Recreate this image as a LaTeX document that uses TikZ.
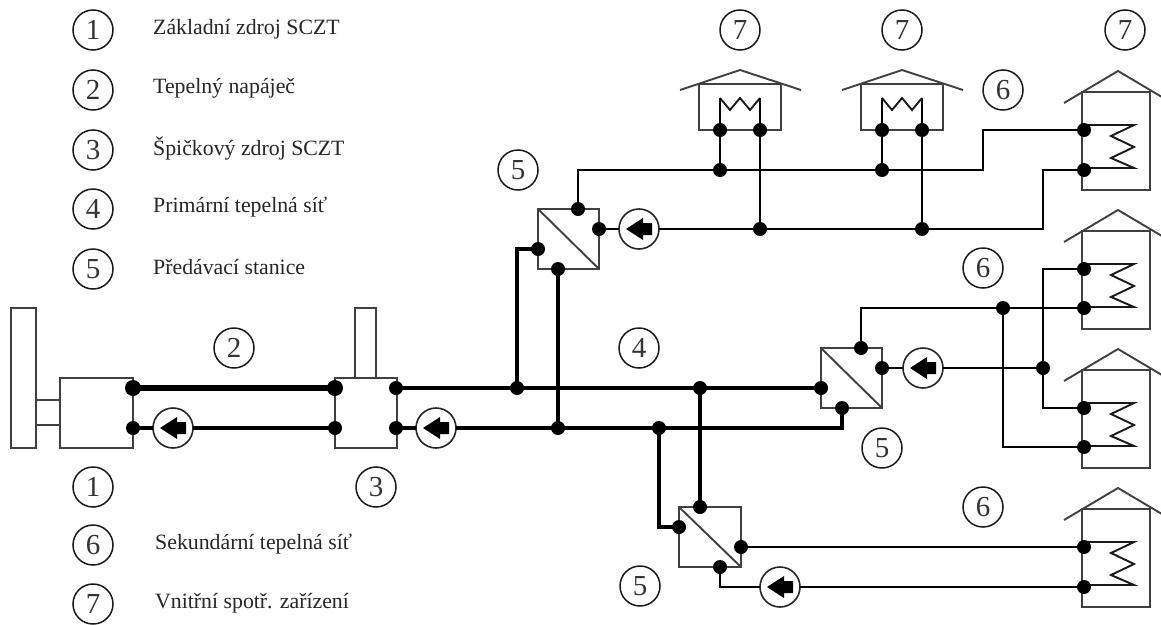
\documentclass[tikz,border=0pt]{standalone}
\usepackage{fontspec}
\setmainfont{Liberation Serif}
\tikzset{
  numc/.style={circle,draw=black!90,line width=1.5pt,minimum size=40pt,inner sep=0pt,font=\fontsize{29}{30}\selectfont,text=black!80},
  legtext/.style={anchor=west,inner sep=0pt,font=\fontsize{21.8}{24}\selectfont,text=black!85},
  thinbox/.style={draw=black!80,line width=1.9pt,inner sep=0pt},
  junc/.style={circle,fill=black,inner sep=0pt,outer sep=0pt,minimum size=14pt},
  bigjunc/.style={circle,fill=black,inner sep=0pt,outer sep=0pt,minimum size=16pt},
  pumpc/.style={circle,draw=black!85,fill=white,line width=1.6pt,minimum size=40pt,inner sep=0pt,outer sep=0pt,
    path picture={\fill[black] (path picture bounding box.center) ++(-13,0) -- ++(17,-11) -- ++(0,5) -- ++(9,0) -- ++(0,12) -- ++(-9,0) -- ++(0,5) -- cycle;}},
  pipeT/.style={line width=1.9pt,black},
  pipeM/.style={line width=2.7pt,black},
  pipeB/.style={line width=3.6pt,black},
  pipeF/.style={line width=4.6pt,black},
  pipeH/.style={line width=5.5pt,black},
  wall/.style={draw=black!75,line width=1.9pt,line join=miter},
  coilline/.style={draw=black!90,line width=1.9pt,line join=miter}
}
\begin{document}
\begin{tikzpicture}[x=1pt,y=-1pt]
\path[fill=white,use as bounding box] (0,0) rectangle (1161,624);

% legend
\node[numc] (l1) at (93,30) {1};
\node[numc] (l2) at (93,90) {2};
\node[numc] (l3) at (93,150) {3};
\node[numc] (l4) at (93,209) {4};
\node[numc] (l5) at (93,269) {5};
\node[numc] (l6) at (93,545) {6};
\node[numc] (l7) at (93,604) {7};
\node[legtext] (t1) at (153,29) {Základní zdroj SCZT};
\node[legtext] (t2) at (153,88) {Tepelný napáječ};
\node[legtext] (t3) at (153,148) {Špičkový zdroj SCZT};
\node[legtext] (t4) at (153,207) {Primární tepelná síť};
\node[legtext] (t5) at (153,267) {Předávací stanice};
\node[legtext] (t6) at (155,544) {Sekundární tepelná síť};
\node[legtext] (t7) at (155,603) {Vnitřní spotř. zařízení};

% number labels
\node[numc] (n1) at (93,487) {1};
\node[numc] (n2) at (234,348) {2};
\node[numc] (n3) at (376,487) {3};
\node[numc] (n4) at (639,348) {4};
\node[numc] (n5a) at (518,170) {5};
\node[numc] (n5b) at (882,448) {5};
\node[numc] (n5c) at (640,586) {5};
\node[numc] (n6a) at (1003,90) {6};
\node[numc] (n6b) at (983,268) {6};
\node[numc] (n6c) at (983,507) {6};
\node[numc] (n7a) at (740,30) {7};
\node[numc] (n7b) at (902,30) {7};
\node[numc] (n7c) at (1125,30) {7};

% source and peak plant
\draw[wall] (11,308) rectangle (36,448);
\draw[wall] (36,400) rectangle (60,425);
\draw[wall] (60,378) rectangle (133,448);
\draw[wall] (355,308) rectangle (376,378);
\draw[wall] (335,378) rectangle (397,448);

% small houses
\foreach \dx in {0,162}{
  \draw[wall] (699+\dx,84) rectangle (781+\dx,130);
  \draw[wall] (680+\dx,90) -- (740+\dx,70) -- (801+\dx,90);
  \draw[coilline] (720+\dx,98) -- (730+\dx,110) -- (740+\dx,98) -- (750+\dx,110) -- (760+\dx,98);
}
% tall houses
\foreach \dy in {0,139,278,417}{
  \draw[wall] (1082,92+\dy) -- (1082,190+\dy) -- (1150,190+\dy) -- (1150,92+\dy) -- cycle;
  \draw[wall] (1064,103+\dy) -- (1118,71+\dy) -- (1172,103+\dy);
  \draw[coilline] (1084,125+\dy) -- (1134,125+\dy) -- (1111,136+\dy) -- (1134,147+\dy) -- (1111,158+\dy) -- (1134,168+\dy) -- (1084,168+\dy);
}

% exchanger stations
\draw[wall] (538,209) rectangle (599,269);
\draw[wall] (538,209) -- (599,269);
\draw[wall] (821,348) rectangle (882,408);
\draw[wall] (821,348) -- (882,408);
\draw[wall] (679,507) rectangle (741,567);
\draw[wall] (679,507) -- (741,567);

% junctions
\node[bigjunc] (s1) at (133,388) {};
\node[junc] (s2) at (133,428) {};
\node[bigjunc] (p1) at (335,388) {};
\node[junc] (p2) at (335,428) {};
\node[junc] (p3) at (396,388) {};
\node[junc] (p4) at (396,428) {};
\node[junc] (j1) at (517,388) {};
\node[junc] (j2) at (558,428) {};
\node[junc] (j3) at (700,388) {};
\node[junc] (j4) at (659,428) {};
\node[junc] (aT) at (578,209) {};
\node[junc] (aR) at (599,229) {};
\node[junc] (aL) at (538,249) {};
\node[junc] (aB) at (558,269) {};
\node[junc] (bT) at (861,348) {};
\node[junc] (bR) at (882,368) {};
\node[junc] (bL) at (821,388) {};
\node[junc] (bB) at (842,408) {};
\node[junc] (cT) at (700,507) {};
\node[junc] (cL) at (679,527) {};
\node[junc] (cR) at (741,547) {};
\node[junc] (cB) at (720,567) {};
\node[junc] (h1a) at (720,130) {};
\node[junc] (h1b) at (760,130) {};
\node[junc] (h2a) at (882,130) {};
\node[junc] (h2b) at (922,130) {};
\node[junc] (k1) at (720,170) {};
\node[junc] (k2) at (882,170) {};
\node[junc] (k3) at (760,229) {};
\node[junc] (k4) at (922,229) {};
\node[junc] (ha1) at (1084,130) {};
\node[junc] (ha2) at (1084,170) {};
\node[junc] (hb1) at (1084,269) {};
\node[junc] (hb2) at (1084,308) {};
\node[junc] (hc1) at (1084,408) {};
\node[junc] (hc2) at (1084,447) {};
\node[junc] (hd1) at (1084,547) {};
\node[junc] (hd2) at (1084,587) {};
\node[junc] (m1) at (1003,308) {};
\node[junc] (m2) at (1043,368) {};

% pumps
\node[pumpc] (pu1) at (173,428) {};
\node[pumpc] (pu2) at (436,428) {};
\node[pumpc] (pu3) at (639,229) {};
\node[pumpc] (pu4) at (923,368) {};
\node[pumpc] (pu5) at (780,587) {};

% bend points
\coordinate (c1a) at (517,249);
\coordinate (c1b) at (842,428);
\coordinate (c2a) at (659,527);
\coordinate (c3a) at (578,170);
\coordinate (c3b) at (983,170);
\coordinate (c3c) at (983,130);
\coordinate (c4a) at (1043,229);
\coordinate (c4b) at (1043,170);
\coordinate (c5a) at (861,308);
\coordinate (c6a) at (1043,269);
\coordinate (c6b) at (1043,408);
\coordinate (c7a) at (1003,447);
\coordinate (c8a) at (720,587);
\coordinate (e1) at (720,98);
\coordinate (e2) at (760,98);
\coordinate (e3) at (882,98);
\coordinate (e4) at (922,98);

% feeder
\draw[pipeH] (s1.center) -- (p1.center);
\draw[pipeF] (s2.center) -- (pu1);
\draw[pipeF] (pu1) -- (p2.center);
% primary
\draw[pipeB] (p3.center) -- (bL.center);
\draw[pipeB] (p4.center) -- (pu2);
\draw[pipeB] (pu2) -- (c1b) -- (bB.center);
\draw[pipeB] (j1.center) -- (c1a) -- (aL.center);
\draw[pipeB] (aB.center) -- (j2.center);
\draw[pipeB] (j3.center) -- (cT.center);
\draw[pipeB] (j4.center) -- (c2a) -- (cL.center);
% secondary A
\draw[pipeT] (aR.center) -- (pu3);
\draw[pipeT] (pu3) -- (k3.center);
\draw[pipeT] (k3.center) -- (k4.center);
\draw[pipeM] (k4.center) -- (c4a) -- (c4b) -- (ha2.center);
\draw[pipeT] (aT.center) -- (c3a) -- (k1.center);
\draw[pipeM] (k1.center) -- (k2.center);
\draw[pipeM] (k2.center) -- (c3b) -- (c3c) -- (ha1.center);
\draw[pipeM] (h1a.center) -- (k1.center);
\draw[pipeT] (h1b.center) -- (k3.center);
\draw[pipeT] (h2a.center) -- (k2.center);
\draw[pipeT] (h2b.center) -- (k4.center);
\draw[pipeM] (h1a.center) -- (e1);
\draw[pipeT] (h1b.center) -- (e2);
\draw[pipeT] (h2a.center) -- (e3);
\draw[pipeT] (h2b.center) -- (e4);
% secondary B
\draw[pipeT] (bR.center) -- (pu4);
\draw[pipeM] (pu4) -- (m2.center);
\draw[pipeT] (bT.center) -- (c5a) -- (m1.center);
\draw[pipeT] (m1.center) -- (hb2.center);
\draw[pipeM] (hb1.center) -- (c6a) -- (c6b) -- (hc1.center);
\draw[pipeM] (m1.center) -- (c7a) -- (hc2.center);
% secondary C
\draw[pipeM] (cR.center) -- (hd1.center);
\draw[pipeT] (cB.center) -- (c8a) -- (pu5);
\draw[pipeT] (pu5) -- (hd2.center);
\end{tikzpicture}
\end{document}
